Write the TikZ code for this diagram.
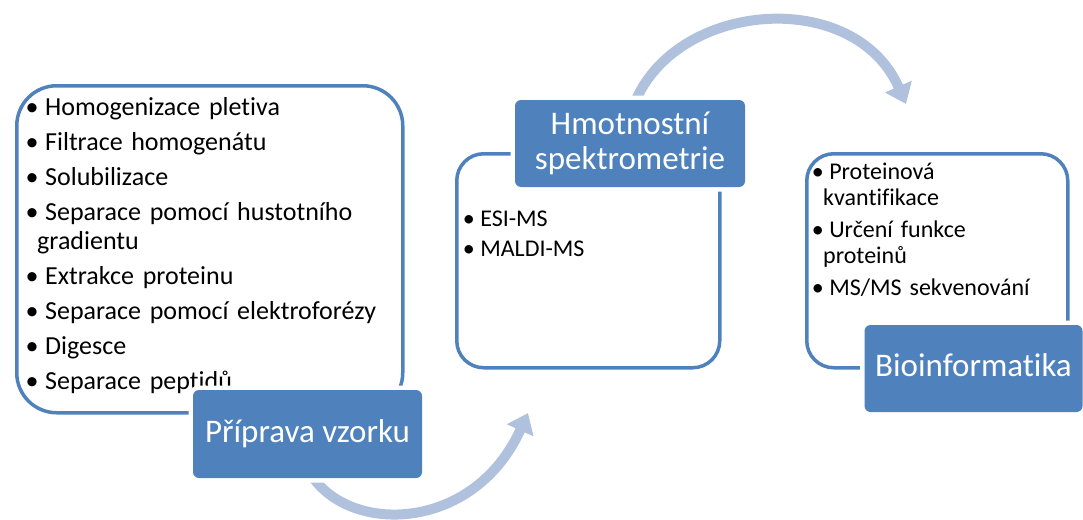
\documentclass[tikz,border=0pt]{standalone}
\usepackage{fontspec}
\setmainfont[Ligatures=NoCommon]{Carlito}
\usetikzlibrary{arrows.meta, backgrounds}
\definecolor{accentblue}{HTML}{4F81BD}
\definecolor{arrowblue}{HTML}{B0C1DD}
\newcommand{\blt}[1][17.5pt]{\makebox[#1][l]{•}}

\begin{document}
\begin{tikzpicture}[x=1pt, y=-1pt,
    listframe/.style={draw=accentblue, line width=3.5pt, rounded corners=#1, anchor=north west, inner sep=0pt},
    listframe/.default=27pt,
    headbox/.style={fill=accentblue, text=white, rounded corners=6pt, preaction={draw=white, line width=9pt},
        font=\fontsize{33}{35}\selectfont, align=center, inner sep=0pt},
    oneline/.style={text height=24pt, text depth=8pt},
    items/.style={anchor=base west, inner sep=0pt, align=left, text width=390pt},
    flow/.style={draw=arrowblue, line width=10pt, -{Triangle[width=28pt,length=19pt]}}]

    \useasboundingbox (0,0) rectangle (1083,519);

    % frames
    \node[listframe=40pt, minimum width=386pt, minimum height=327pt] (prepframe) at (15,84) {};
    \node[listframe, minimum width=263pt, minimum height=214pt] (msframe) at (455,152) {};
    \node[listframe, minimum width=261pt, minimum height=214pt] (bioframe) at (805,152) {};

    % lists
    \node[items, font=\fontsize{26}{29}\selectfont] (preplist) at (25.4,115) {%
        \blt[19.6pt]Homogenizace pletiva\\[6pt]
        \blt[19.6pt]Filtrace homogenátu\\[6pt]
        \blt[19.6pt]Solubilizace\\[6pt]
        \blt[19.6pt]Separace pomocí hustotního\\
        \hspace*{11.6pt}gradientu\\[6pt]
        \blt[19.6pt]Extrakce proteinu\\[6pt]
        \blt[19.6pt]Separace pomocí elektroforézy\\[6pt]
        \blt[19.6pt]Digesce\\[6pt]
        \blt[19.6pt]Separace peptidů};
    \node[items, font=\fontsize{24}{26}\selectfont] (mslist) at (462.6,226) {%
        \blt ESI-MS\\[4pt]
        \blt MALDI-MS};
    \node[items, font=\fontsize{24}{26}\selectfont] (biolist) at (811.6,179) {%
        \blt Proteinová\\
        \hspace*{11.4pt}kvantifikace\\[6pt]
        \blt Určení funkce\\
        \hspace*{11.4pt}proteinů\\[6pt]
        \blt MS/MS sekvenování};

    % step headings
    \node[headbox, oneline, minimum width=229pt, minimum height=88pt] (prep) at (307.5,434) {Příprava vzorku};
    \node[headbox, minimum width=230pt, minimum height=87pt] (ms) at (630,143.5) {Hmotnostní\\spektrometrie};
    \node[headbox, oneline, minimum width=218pt, minimum height=87pt] (bio) at (973.5,368.5) {Bioinformatika};

    % arrows between steps
    \coordinate (tipA) at (528,413);
    \coordinate (tipB) at (906,104);
    \begin{scope}[on background layer]
        \draw[flow] ([xshift=6pt]prep.south) .. controls (355,535) and (475,530) .. (tipA);
        \draw[flow] ([xshift=6pt]ms.north) .. controls (680,0) and (855,-12) .. (tipB);
    \end{scope}
\end{tikzpicture}
\end{document}
